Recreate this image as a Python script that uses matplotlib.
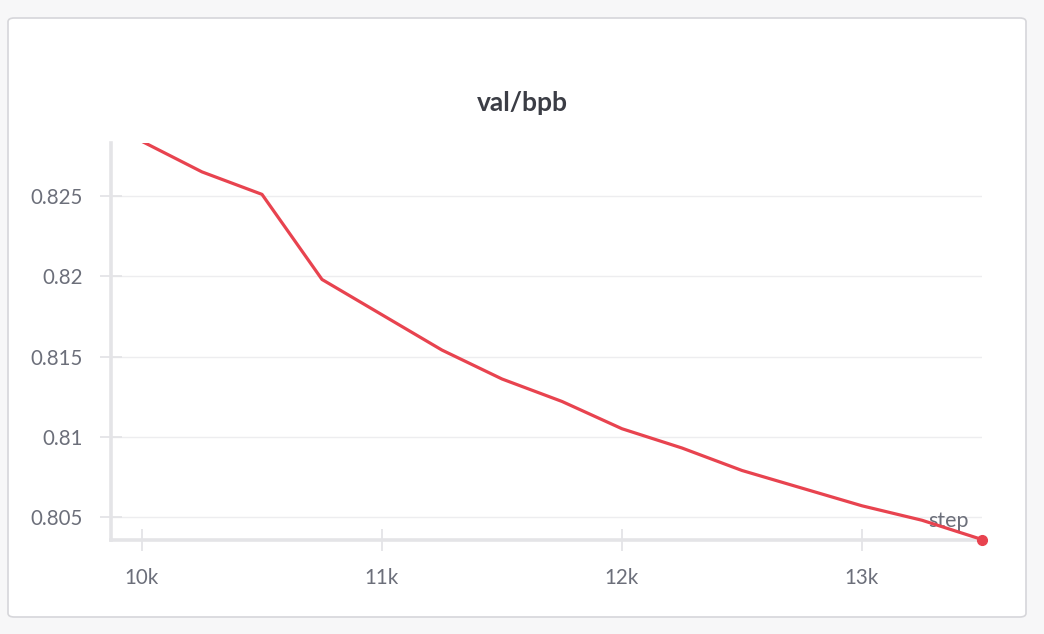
import matplotlib
matplotlib.use("Agg")
import matplotlib.pyplot as plt
from matplotlib.patches import FancyBboxPatch

steps = [10000, 10250, 10500, 10750, 11000, 11250, 11500, 11750, 12000,
         12250, 12500, 12750, 13000, 13250, 13500]
val_bpb = [0.8284, 0.8265, 0.8251, 0.8198, 0.8176, 0.8154, 0.8136, 0.8122,
           0.8105, 0.8093, 0.8079, 0.8068, 0.8057, 0.8048, 0.8036]
x_ticks = [10000, 11000, 12000, 13000]
x_tick_labels = ["10k", "11k", "12k", "13k"]
y_ticks = [0.805, 0.81, 0.815, 0.82, 0.825]
y_tick_labels = ["0.805", "0.81", "0.815", "0.82", "0.825"]
title = "val/bpb"

plt.rcParams['font.family'] = ['Lato', 'DejaVu Sans']

W, H = 1044, 634
fig = plt.figure(figsize=(W / 100, H / 100), dpi=100)
fig.patch.set_facecolor("#f7f7f8")

card = FancyBboxPatch((8 / W, 1 - 617 / H), (1026 - 8) / W, (617 - 18) / H,
                      boxstyle="round,pad=0,rounding_size=0.006",
                      transform=fig.transFigure, facecolor="white",
                      edgecolor="#d6d6da", linewidth=1.2, zorder=-10)
fig.patches.append(card)

left, right, top, bottom = 111, 982, 143, 540
ax = fig.add_axes([left / W, 1 - bottom / H, (right - left) / W, (bottom - top) / H])
ax.set_facecolor("none")
ax.set_zorder(1)

ax.plot(steps, val_bpb, color="#e8434f", linewidth=2.3, zorder=3,
        solid_joinstyle="round", clip_on=True)
ax.plot([steps[-1]], [val_bpb[-1]], 'o', color="#e8434f", markersize=7,
        zorder=4, clip_on=False)

x0 = 10000 - (142 - left) * 1000 / 240
ax.set_xlim(x0, 13500)
ax.set_ylim(0.80357, 0.8283)

ax.set_xticks(x_ticks)
ax.set_xticklabels(x_tick_labels)
ax.set_yticks(y_ticks)
ax.set_yticklabels(y_tick_labels)

for s in ["top", "right"]:
    ax.spines[s].set_visible(False)
for s in ["left", "bottom"]:
    ax.spines[s].set_color("#e4e4e7")
    ax.spines[s].set_linewidth(2.6)

ax.tick_params(axis="both", colors="#e4e4e7", labelcolor="#6c6f7a",
               labelsize=14.8, width=1.3, length=16.5, direction="inout")
ax.tick_params(axis="x", pad=12)
ax.tick_params(axis="y", pad=12)

ax.grid(axis="y", color="#ededef", linewidth=1.0)
ax.set_axisbelow(True)

ax.text(0.985, 0.048, "step", transform=ax.transAxes, ha="right", va="center",
        color="#6c6f7a", fontsize=15.5, zorder=2)

fig.text(0.5, 1 - 103 / H, title, ha="center", va="center",
         fontsize=19, fontweight="bold", color="#3b3d45")

fig.savefig("out.png", dpi=100, facecolor=fig.get_facecolor())
